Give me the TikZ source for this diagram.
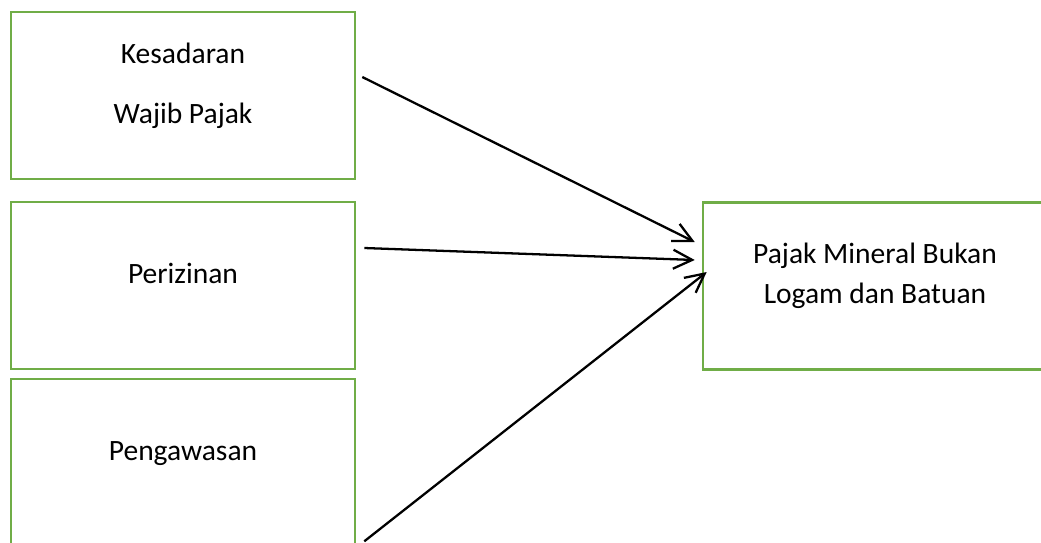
\documentclass[tikz,border=0pt]{standalone}
\usepackage{fontspec}
\setmainfont{Carlito}
\usetikzlibrary{positioning,arrows.meta,calc}
\definecolor{boxgreen}{RGB}{112,173,71}
\tikzset{
box/.style={draw=boxgreen, line width=1.5pt, minimum width=6.88cm, minimum height=3.34cm, inner sep=0pt},
txt/.style={anchor=base, font=\fontsize{16.8}{20}\selectfont, inner sep=0pt},
link/.style={->, line width=1.3pt}
}

\begin{document}
\begin{tikzpicture}[x=0.02cm,y=-0.02cm,>={Straight Barb[length=0.38cm,width=0.38cm]}]
\useasboundingbox (0,0) rectangle (1041,542);
% left column
\node[box] (kesadaran) at (183,95.5) {};
\node[box] (perizinan) at (183,285.5) {};
\node[box] (pengawasan) at (183,462.5) {};
% right box
\node[box] (pajak) at (875,286) {};

% texts
\node[txt] (kesadaran-a) at (183,63) {Kesadaran};
\node[txt] (kesadaran-b) at (183,123) {Wajib Pajak};
\node[txt] (perizinan-a) at (183,283) {Perizinan};
\node[txt] (pengawasan-a) at (183,460) {Pengawasan};
\node[txt] (pajak-a) at (875,263) {Pajak Mineral Bukan};
\node[txt] (pajak-b) at (875,303) {Logam dan Batuan};

% arrows
\draw[link] ($(kesadaran.east)+(6,-18.5)$) -- ($(pajak.west)+(-7,-44)$);
\draw[link] ($(perizinan.east)+(8,-37.5)$) -- ($(pajak.west)+(-7,-26)$);
\draw[link] ($(pengawasan.south east)+(8,-6)$) -- ($(pajak.west)+(5,-14)$);
\end{tikzpicture}
\end{document}
